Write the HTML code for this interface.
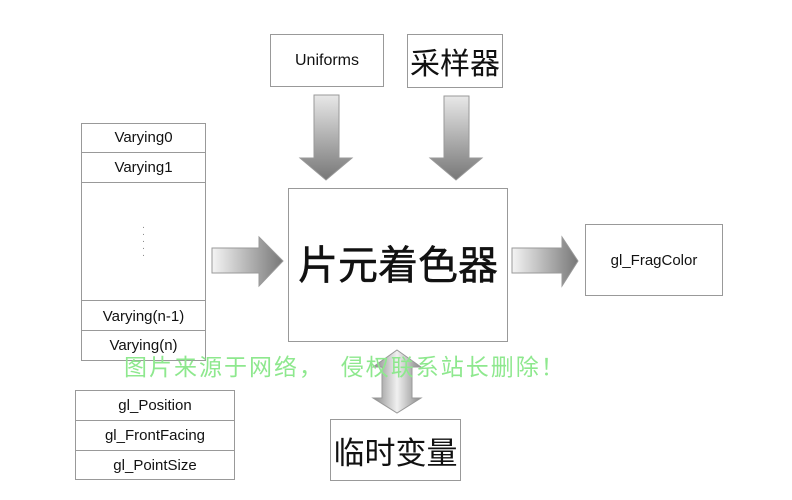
<!DOCTYPE html>
<html><head><meta charset="utf-8"><style>
body{margin:0;background:#fff;width:792px;height:500px;position:relative;overflow:hidden;font-family:"Liberation Sans","Noto Sans CJK SC",sans-serif;}
.b{position:absolute;border:1.5px solid #999;box-sizing:border-box;background:#fff;display:flex;align-items:center;justify-content:center;color:#111;}
.r{position:absolute;border-top:1.5px solid #999;left:0;right:0;}
.t{position:absolute;left:0;right:0;text-align:center;font-size:15px;color:#111;}
</style></head><body>
<svg width="792" height="500" style="position:absolute;left:0;top:0">
<defs>
<linearGradient id="gv" x1="0" y1="0" x2="0" y2="1"><stop offset="0" stop-color="#e8e8e8"/><stop offset="1" stop-color="#777"/></linearGradient>
<linearGradient id="gh" x1="0" y1="0" x2="1" y2="0"><stop offset="0" stop-color="#f4f4f4"/><stop offset="1" stop-color="#777"/></linearGradient>
<linearGradient id="gd" x1="0" y1="0" x2="1" y2="0"><stop offset="0" stop-color="#888"/><stop offset=".5" stop-color="#f0f0f0"/><stop offset="1" stop-color="#888"/></linearGradient>
</defs>
<g stroke="#999" stroke-width="1">
<polygon points="314,95 339,95 339,158 352,158 326,180 300,158 314,158" fill="url(#gv)"/>
<polygon points="444,96 469,96 469,158 482,158 456,180 430,158 444,158" fill="url(#gv)"/>
<polygon points="212,248 259,248 259,237 283,261 259,286 259,273 212,273" fill="url(#gh)"/>
<polygon points="512,248 562,248 562,237 578,261 562,286 562,273 512,273" fill="url(#gh)"/>
<polygon points="397,350 421,367 412,367 412,398 421,398 397,413 373,398 382,398 382,367 373,367" fill="url(#gd)"/>
</g>
</svg>
<div class="b" style="left:270px;top:34px;width:114px;height:53px;font-size:16px">Uniforms</div>
<div class="b" style="left:407px;top:34px;width:96px;height:54px;font-size:30px">采样器</div>
<div class="b" style="left:288px;top:188px;width:220px;height:154px;font-size:40px;padding-bottom:6px;font-weight:normal;-webkit-text-stroke:0.5px #111">片元着色器</div>
<div class="b" style="left:585px;top:224px;width:138px;height:72px;font-size:15px">gl_FragColor</div>
<div class="b" style="left:330px;top:419px;width:131px;height:62px;font-size:31px">临时变量</div>
<div class="b" style="left:81px;top:123px;width:125px;height:238px;display:block">
<div class="t" style="top:5px">Varying0</div><div class="r" style="top:28px"></div>
<div class="t" style="top:35px">Varying1</div><div class="r" style="top:58px"></div>
<div class="t" style="top:100px;font-size:10px;line-height:7px;color:#888">·<br>·<br>·<br>·<br>·</div>
<div class="r" style="top:176px"></div><div class="t" style="top:184px">Varying(n-1)</div>
<div class="r" style="top:206px"></div><div class="t" style="top:213px">Varying(n)</div>
</div>
<div class="b" style="left:75px;top:390px;width:160px;height:90px;display:block">
<div class="t" style="top:6px">gl_Position</div><div class="r" style="top:29px"></div>
<div class="t" style="top:36px">gl_FrontFacing</div><div class="r" style="top:59px"></div>
<div class="t" style="top:66px">gl_PointSize</div>
</div>
<div style="position:absolute;left:124px;top:348px;font-size:23px;color:#8ee88e;letter-spacing:2px;white-space:pre">图片来源于网络，  侵权联系站长删除！</div>
</body></html>
